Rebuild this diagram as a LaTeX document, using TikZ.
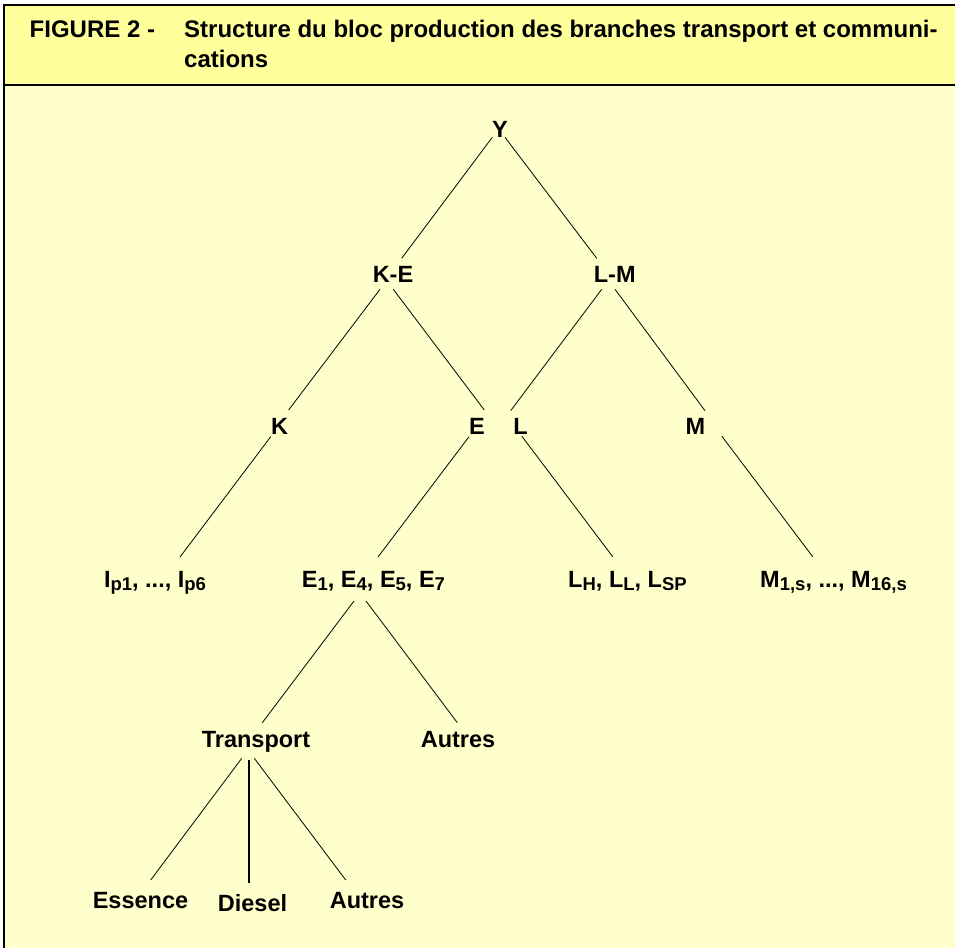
\documentclass[tikz,border=0pt]{standalone}
\usepackage{fontspec}
\setmainfont{Liberation Sans}
\definecolor{headyellow}{HTML}{FFFF9C}
\definecolor{bodyyellow}{HTML}{FFFFCC}
\newcommand{\lsub}[1]{\raisebox{-3.5pt}{\fontsize{18.5}{19}\selectfont #1}}
\tikzset{
  lbl/.style={font=\fontsize{23.5}{28}\selectfont\bfseries, inner sep=0pt, anchor=base},
  headlbl/.style={font=\fontsize{24}{29}\selectfont\bfseries, inner sep=0pt, anchor=base west},
  conn/.style={line width=0.8pt, draw=black},
  connthick/.style={line width=1.7pt, draw=black},
  frameline/.style={line width=1.2pt, draw=black}
}
\begin{document}
\begin{tikzpicture}[x=1pt,y=-1pt]
\useasboundingbox (0,0) rectangle (955,948);
% background panels
\fill[headyellow] (4,5) rectangle (955,85);
\fill[bodyyellow] (4,85) rectangle (955,948);
\draw[frameline] (955,5) -- (4,5) -- (4,948);
\draw[frameline] (4,85) -- (955,85);
% header
\node[headlbl] (fig) at (29.5,37) {FIGURE 2 -};
\node[headlbl] (title1) at (184,37) {Structure du bloc production des branches transport et communi-};
\node[headlbl] (title2) at (184,67) {cations};
% tree nodes
\node[lbl] (Y) at (500,137) {Y};
\node[lbl] (KE) at (393,282) {K-E};
\node[lbl] (LM) at (614.7,282) {L-M};
\node[lbl] (K) at (279.5,434) {K};
\node[lbl] (E) at (477,434) {E};
\node[lbl] (L) at (520.5,434) {L};
\node[lbl] (M) at (695.5,434) {M};
\node[lbl] (I) at (155,587) {I\lsub{p1}, ..., I\lsub{p6}};
\node[lbl] (E1) at (373.5,587) {E\lsub{1}, E\lsub{4}, E\lsub{5}, E\lsub{7}};
\node[lbl] (LH) at (627.5,587) {L\lsub{H}, L\lsub{L}, L\lsub{SP}};
\node[lbl] (M1) at (833.5,587) {M\lsub{1,s}, ..., M\lsub{16,s}};
\node[lbl] (Tr) at (256,747) {Transport};
\node[lbl] (A1) at (458,747) {Autres};
\node[lbl] (Es) at (140.5,908) {Essence};
\node[lbl] (Di) at (252.5,911) {Diesel};
\node[lbl] (A2) at (367,908) {Autres};
% connectors
\draw[conn] ([shift={(-7.7,0.3)}]Y.base) -- ([shift={(8.7,-23.7)}]KE.base);
\draw[conn] ([shift={(5,0.3)}]Y.base) -- ([shift={(-18,-23.7)}]LM.base);
\draw[conn] ([shift={(-13,7.3)}]KE.base) -- ([shift={(9.1,-24)}]K.base);
\draw[conn] ([shift={(0.3,7.3)}]KE.base) -- ([shift={(7.3,-24)}]E.base);
\draw[conn] ([shift={(-13,7.3)}]LM.base) -- ([shift={(-9.8,-23.3)}]L.base);
\draw[conn] ([shift={(0.3,7.3)}]LM.base) -- ([shift={(9.5,-23.3)}]M.base);
\draw[conn] ([shift={(-8.8,2.7)}]K.base) -- ([shift={(25,-30)}]I.base);
\draw[conn] ([shift={(-8,2.7)}]E.base) -- ([shift={(4.5,-30)}]E1.base);
\draw[conn] ([shift={(1.2,2)}]L.base) -- ([shift={(-14.8,-30.3)}]LH.base);
\draw[conn] ([shift={(26.2,2)}]M.base) -- ([shift={(-20.8,-30.3)}]M1.base);
\draw[conn] ([shift={(-19.5,14)}]E1.base) -- ([shift={(6.3,-24.3)}]Tr.base);
\draw[conn] ([shift={(-7.5,14)}]E1.base) -- ([shift={(-0.7,-24.3)}]A1.base);
\draw[conn] ([shift={(-14.3,11.3)}]Tr.base) -- ([shift={(10.2,-28)}]Es.base);
\draw[connthick] ([shift={(-7,13)}]Tr.base) -- ([shift={(-3.5,-27.7)}]Di.base);
\draw[conn] ([shift={(-1.7,11.3)}]Tr.base) -- ([shift={(-21.3,-28)}]A2.base);
\end{tikzpicture}
\end{document}
